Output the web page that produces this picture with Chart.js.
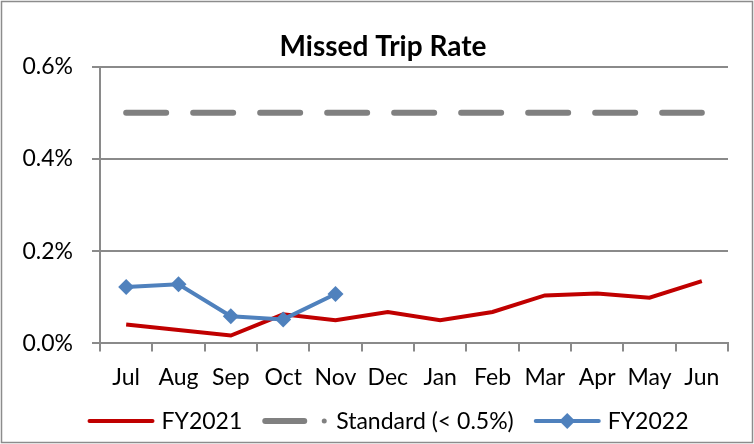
<!DOCTYPE html>
<html>
<head>
<meta charset="utf-8">
<script src="https://cdn.jsdelivr.net/npm/chart.js@4/dist/chart.umd.min.js"></script>
<style>
  html, body { margin: 0; padding: 0; background: #fff; }
  #wrap { width: 754px; height: 444px; }
</style>
</head>
<body>
<div id="wrap"><canvas id="c" width="754" height="444"></canvas></div>
<script>
const categories = ['Jul','Aug','Sep','Oct','Nov','Dec','Jan','Feb','Mar','Apr','May','Jun'];
const fy2021 = [0.041, 0.029, 0.017, 0.063, 0.050, 0.068, 0.050, 0.068, 0.104, 0.108, 0.099, 0.135];
const standard = [0.5, 0.5, 0.5, 0.5, 0.5, 0.5, 0.5, 0.5, 0.5, 0.5, 0.5, 0.5];
const fy2022 = [0.122, 0.128, 0.059, 0.052, 0.107];
const yTicks = [0.0, 0.2, 0.4, 0.6];

const FONT = 'Lato, "Open Sans", sans-serif';
const GRID = '#8a8a8a';
const FS = 23;

const framePlugin = {
  id: 'frame',
  afterLayout(chart) {
    // shift the title's centring box slightly to the right, as in the reference
    if (chart.titleBlock) chart.titleBlock.left = chart.titleBlock.left + 28;
  },
  beforeDraw(chart) {
    const ctx = chart.ctx;
    ctx.save();
    ctx.fillStyle = '#ffffff';
    ctx.fillRect(0, 0, chart.width, chart.height);
    ctx.strokeStyle = '#8c8c8c';
    ctx.lineWidth = 1.5;
    ctx.strokeRect(1.5, 1.5, chart.width - 3, chart.height - 3);
    ctx.restore();
  }
};

const legendPlugin = {
  id: 'customLegend',
  afterDraw(chart) {
    const ctx = chart.ctx;
    const ds = chart.data.datasets;
    const y = 421;
    const sampleW = 67, textGap = 7, itemGap = 20;
    ctx.save();
    ctx.font = FS + 'px ' + FONT;
    ctx.textBaseline = 'middle';
    ctx.textAlign = 'left';
    const widths = ds.map(d => sampleW + textGap + ctx.measureText(d.label).width);
    const total = widths.reduce((a, b) => a + b, 0) + itemGap * (ds.length - 1);
    let x = 388 - total / 2;
    ds.forEach((d, i) => {
      ctx.save();
      ctx.strokeStyle = d.borderColor;
      ctx.lineWidth = d.borderWidth;
      if (d.borderDash && d.borderDash.length) {
        ctx.lineCap = 'round';
        ctx.beginPath();
        ctx.moveTo(x + 3, y);
        ctx.lineTo(x + 42, y);
        ctx.stroke();
        ctx.fillStyle = d.borderColor;
        ctx.beginPath();
        ctx.arc(x + 62, y, 2.5, 0, Math.PI * 2);
        ctx.fill();
      } else {
        ctx.lineCap = 'round';
        ctx.beginPath();
        ctx.moveTo(x + 2, y);
        ctx.lineTo(x + sampleW - 2, y);
        ctx.stroke();
        if (d.pointRadius > 0) {
          const r = d.pointRadius;
          const cx = x + sampleW / 2;
          ctx.fillStyle = d.pointBackgroundColor;
          ctx.beginPath();
          ctx.moveTo(cx, y - r);
          ctx.lineTo(cx + r, y);
          ctx.lineTo(cx, y + r);
          ctx.lineTo(cx - r, y);
          ctx.closePath();
          ctx.fill();
        }
      }
      ctx.restore();
      ctx.fillStyle = '#000';
      ctx.fillText(d.label, x + sampleW + textGap, y + 1);
      x += widths[i] + itemGap;
    });
    ctx.restore();
  }
};

new Chart(document.getElementById('c'), {
  type: 'line',
  data: {
    labels: categories,
    datasets: [
      {
        label: 'FY2021',
        data: fy2021,
        borderColor: '#C00000',
        backgroundColor: '#C00000',
        borderWidth: 4,
        pointRadius: 0,
        tension: 0,
        order: 3
      },
      {
        label: 'Standard (< 0.5%)',
        data: standard,
        borderColor: '#808080',
        backgroundColor: '#808080',
        borderWidth: 6,
        borderDash: [40, 27],
        borderCapStyle: 'round',
        pointRadius: 0,
        tension: 0,
        order: 2
      },
      {
        label: 'FY2022',
        data: fy2022,
        borderColor: '#4F81BD',
        backgroundColor: '#4F81BD',
        pointBackgroundColor: '#4F81BD',
        pointBorderColor: '#4F81BD',
        borderWidth: 4,
        pointStyle: 'rectRot',
        pointRadius: 8,
        pointBorderWidth: 0,
        tension: 0,
        order: 1
      }
    ]
  },
  options: {
    responsive: false,
    animation: false,
    devicePixelRatio: 1,
    layout: { padding: { left: 10, right: 26, top: 0, bottom: 41 } },
    plugins: {
      legend: { display: false },
      tooltip: { enabled: false },
      title: {
        display: true,
        text: 'Missed Trip Rate',
        color: '#000',
        font: { family: FONT, size: 28, weight: 'bold' },
        padding: { top: 30, bottom: 3 }
      }
    },
    scales: {
      x: {
        offset: true,
        grid: {
          offset: true,
          drawOnChartArea: false,
          drawTicks: true,
          tickLength: 8,
          color: GRID,
          lineWidth: 2
        },
        border: { display: true, color: GRID, width: 2 },
        ticks: {
          color: '#000',
          font: { family: FONT, size: FS },
          padding: 12,
          maxRotation: 0,
          autoSkip: false
        }
      },
      y: {
        min: 0,
        max: 0.6,
        afterBuildTicks(scale) {
          scale.ticks = yTicks.map(v => ({ value: v }));
        },
        afterFit(scale) { scale.width = 90; },
        grid: {
          color: GRID,
          lineWidth: 2,
          drawTicks: true,
          tickLength: 8
        },
        border: { display: true, color: GRID, width: 2 },
        ticks: {
          color: '#000',
          font: { family: FONT, size: FS },
          padding: 19,
          callback: v => v.toFixed(1) + '%'
        }
      }
    }
  },
  plugins: [framePlugin, legendPlugin]
});
</script>
</body>
</html>
